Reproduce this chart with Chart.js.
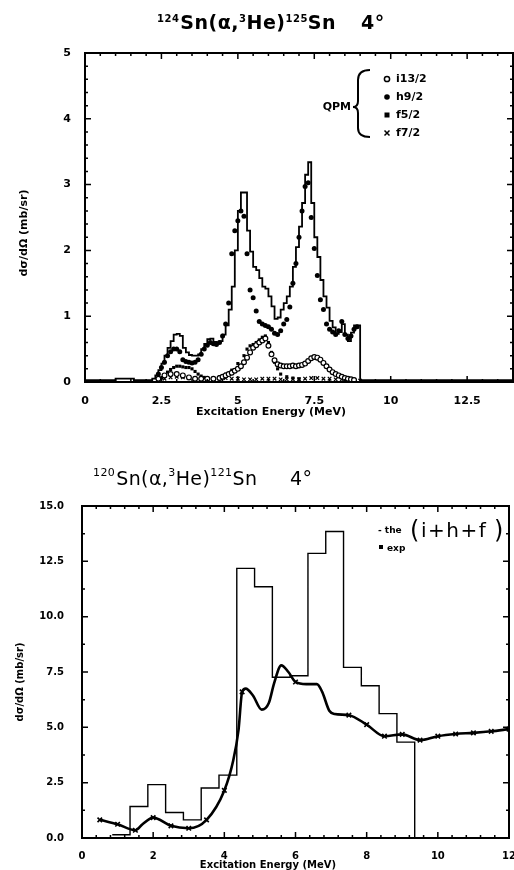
<!DOCTYPE html>
<html>
<head>
<meta charset="utf-8">
<script src="https://cdn.jsdelivr.net/npm/chart.js@4/dist/chart.umd.min.js"></script>
<style>
  html, body { margin: 0; padding: 0; background: #fff; }
  #wrap { position: relative; width: 514px; height: 870px; overflow: hidden; }
  .box { position: absolute; left: 0; width: 514px; }
</style>
</head>
<body>
<div id="wrap">
  <div class="box" style="top:0;height:440px"><canvas id="topChart"></canvas></div>
  <div class="box" style="top:440px;height:430px"><canvas id="botChart"></canvas></div>
</div>
<script>
// ---- top panel: 124Sn(a,3He)125Sn ----
const topXTicks = [0, 2.5, 5, 7.5, 10, 12.5];
const topXLabels = ['0', '2.5', '5', '7.5', '10', '12.5'];
const topYTicks = [0, 1, 2, 3, 4, 5];
const topYLabels = ['0', '1', '2', '3', '4', '5'];

// total histogram: flat baseline, then 0.1 MeV bins from 2.2 to 9.0, then baseline again
const topBaseE = [0, 1.0, 1.6];
const topBaseV = [0.03, 0.05, 0.03];
const topBinLo = 2.2;
const topBinW = 0.1;
const topTotal = [
  0.05, 0.10, 0.18, 0.28, 0.40, 0.52, 0.62, 0.72, 0.73, 0.70,
  0.52, 0.45, 0.41, 0.40, 0.40, 0.42, 0.50, 0.58, 0.65, 0.66,
  0.61, 0.60, 0.62, 0.72, 0.86, 1.10, 1.45, 2.00, 2.60, 2.88,
  2.88, 2.30, 1.98, 1.75, 1.70, 1.58, 1.45, 1.42, 1.30, 1.15,
  0.96, 0.98, 1.10, 1.20, 1.30, 1.45, 1.75, 2.05, 2.36, 2.72,
  3.15, 3.34, 2.72, 2.20, 1.90, 1.55, 1.30, 1.13, 0.93, 0.83,
  0.73, 0.76, 0.88, 0.72, 0.62, 0.75, 0.86, 0.86
];
const topTailE = [9.0, 14];
const topTailV = [0.03, 0.03];

const h92E = [2.4, 2.5, 2.6, 2.7, 2.8, 2.9, 3.0, 3.1, 3.2, 3.3, 3.4, 3.5, 3.6, 3.7, 3.8, 3.9, 4.0, 4.1, 4.2, 4.3, 4.4, 4.5, 4.6, 4.7, 4.8, 4.9, 5.0, 5.1, 5.2, 5.3, 5.4, 5.5, 5.6, 5.7, 5.8, 5.9, 6.0, 6.1, 6.2, 6.3, 6.4, 6.5, 6.6, 6.7, 6.8, 6.9, 7.0, 7.1, 7.2, 7.3, 7.4, 7.5, 7.6, 7.7, 7.8, 7.9, 8.0, 8.1, 8.2, 8.3, 8.4, 8.5, 8.6, 8.7, 8.8, 8.9];
const h92V = [0.12, 0.22, 0.30, 0.40, 0.46, 0.50, 0.50, 0.46, 0.34, 0.31, 0.30, 0.29, 0.30, 0.34, 0.42, 0.50, 0.56, 0.60, 0.58, 0.57, 0.60, 0.70, 0.88, 1.20, 1.95, 2.30, 2.45, 2.60, 2.52, 1.95, 1.40, 1.28, 1.08, 0.92, 0.88, 0.86, 0.84, 0.80, 0.74, 0.72, 0.78, 0.88, 0.95, 1.14, 1.50, 1.80, 2.20, 2.60, 2.97, 3.03, 2.50, 2.03, 1.62, 1.25, 1.10, 0.88, 0.80, 0.76, 0.72, 0.78, 0.92, 0.72, 0.66, 0.70, 0.80, 0.84];

const i132E = [2.4, 2.6, 2.8, 3.0, 3.2, 3.4, 3.6, 3.8, 4.0, 4.2, 4.4, 4.5, 4.6, 4.7, 4.8, 4.9, 5.0, 5.1, 5.2, 5.3, 5.4, 5.5, 5.6, 5.7, 5.8, 5.9, 6.0, 6.1, 6.2, 6.3, 6.4, 6.5, 6.6, 6.7, 6.8, 6.9, 7.0, 7.1, 7.2, 7.3, 7.4, 7.5, 7.6, 7.7, 7.8, 7.9, 8.0, 8.1, 8.2, 8.3, 8.4, 8.5, 8.6, 8.7, 8.8];
const i132V = [0.05, 0.10, 0.12, 0.12, 0.10, 0.07, 0.05, 0.05, 0.05, 0.05, 0.06, 0.08, 0.10, 0.12, 0.14, 0.17, 0.20, 0.24, 0.30, 0.37, 0.45, 0.52, 0.56, 0.60, 0.63, 0.66, 0.55, 0.42, 0.33, 0.27, 0.25, 0.24, 0.24, 0.24, 0.25, 0.24, 0.25, 0.26, 0.28, 0.32, 0.36, 0.38, 0.37, 0.34, 0.29, 0.24, 0.19, 0.15, 0.12, 0.10, 0.08, 0.06, 0.05, 0.04, 0.03];

const f52E = [2.5, 2.6, 2.7, 2.8, 2.9, 3.0, 3.1, 3.2, 3.3, 3.4, 3.5, 3.6, 3.7, 3.8, 3.9, 4.0, 4.2, 4.4, 4.6, 4.8, 5.0, 5.2, 5.3, 5.4, 5.5, 5.6, 5.7, 5.8, 5.9, 6.0, 6.1, 6.2, 6.3, 6.4, 6.6, 6.8, 7.0];
const f52V = [0.06, 0.10, 0.15, 0.19, 0.22, 0.24, 0.24, 0.23, 0.22, 0.22, 0.20, 0.16, 0.12, 0.09, 0.07, 0.06, 0.06, 0.08, 0.12, 0.18, 0.28, 0.40, 0.50, 0.55, 0.57, 0.60, 0.64, 0.68, 0.70, 0.60, 0.45, 0.30, 0.20, 0.12, 0.08, 0.06, 0.05];

const f72E = [2.4, 2.6, 2.8, 3.0, 3.2, 3.4, 3.6, 3.8, 4.0, 4.2, 4.4, 4.6, 4.8, 5.0, 5.2, 5.4, 5.6, 5.8, 6.0, 6.2, 6.4, 6.6, 6.8, 7.0, 7.2, 7.4, 7.6, 7.8, 8.0, 8.2, 8.4, 8.6, 8.8, 9.0];
const f72V = [0.03, 0.05, 0.07, 0.08, 0.07, 0.06, 0.05, 0.05, 0.04, 0.04, 0.05, 0.06, 0.05, 0.05, 0.04, 0.04, 0.04, 0.05, 0.05, 0.05, 0.04, 0.04, 0.04, 0.04, 0.05, 0.06, 0.06, 0.05, 0.05, 0.04, 0.04, 0.03, 0.03, 0.02];

// ---- bottom panel: 120Sn(a,3He)121Sn ----
const botXTicks = [0, 2, 4, 6, 8, 10, 12];
const botXLabels = ['0', '2', '4', '6', '8', '10', '12'];
const botYTicks = [0, 2.5, 5, 7.5, 10, 12.5, 15];
const botYLabels = ['0.0', '2.5', '5.0', '7.5', '10.0', '12.5', '15.0'];

// experiment, 0.5 MeV bins (left edges), last edge closes the histogram
const expEdges = [0.85, 1.35, 1.85, 2.35, 2.85, 3.35, 3.85, 4.35, 4.85, 5.35, 5.85, 6.35, 6.85, 7.35, 7.85, 8.35, 8.85, 9.35, 12];
const expVals = [0.15, 1.42, 2.41, 1.15, 0.82, 2.26, 2.84, 12.18, 11.35, 7.26, 7.33, 12.86, 13.85, 7.71, 6.88, 5.62, 4.33, 0, 0];

// theory (i+h+f)
const theoE = [0.5, 1.0, 1.5, 1.7, 2.0, 2.5, 3.0, 3.5, 4.0, 4.25, 4.4, 4.5, 4.6, 4.8, 5.05, 5.25, 5.4, 5.6, 5.8, 6.0, 6.3, 6.6, 6.75, 6.95, 7.1, 7.5, 8.0, 8.5, 9.0, 9.5, 10.0, 10.5, 11.0, 11.5, 12.0];
const theoV = [0.82, 0.62, 0.35, 0.62, 0.92, 0.55, 0.44, 0.82, 2.15, 3.5, 4.9, 6.6, 6.75, 6.45, 5.8, 6.1, 7.0, 7.8, 7.5, 7.05, 6.95, 6.95, 6.6, 5.75, 5.6, 5.55, 5.12, 4.6, 4.68, 4.42, 4.6, 4.7, 4.75, 4.82, 4.92];

const FONT = "'DejaVu Sans', sans-serif";

function pts(xs, ys) {
    return xs.map((x, i) => ({ x: x, y: ys[i] }));
}

function labelOf(ticks, labels) {
    return v => {
        const i = ticks.findIndex(t => Math.abs(t - v) < 1e-6);
        return i >= 0 ? labels[i] : '';
    };
}

function minorList(lo, hi, step) {
    const out = [];
    for (let v = lo; v <= hi + 1e-9; v += step) out.push(+v.toFixed(4));
    return out;
}

function drawFrame(chart, xMaj, xMin, yMaj, yMin) {
    const { ctx, chartArea: a, scales } = chart;
    const sx = scales.x, sy = scales.y;
    ctx.save();
    ctx.strokeStyle = '#000';
    ctx.lineWidth = 2;
    ctx.strokeRect(a.left, a.top, a.right - a.left, a.bottom - a.top);
    ctx.lineWidth = 1.5;
    ctx.beginPath();
    const xs = (list, len) => list.forEach(v => {
        const p = sx.getPixelForValue(v);
        if (p <= a.left + 1 || p >= a.right - 1) return;
        ctx.moveTo(p, a.top); ctx.lineTo(p, a.top + len);
        ctx.moveTo(p, a.bottom); ctx.lineTo(p, a.bottom - len);
    });
    const ys = (list, len) => list.forEach(v => {
        const p = sy.getPixelForValue(v);
        if (p <= a.top + 1 || p >= a.bottom - 1) return;
        ctx.moveTo(a.left, p); ctx.lineTo(a.left + len, p);
        ctx.moveTo(a.right, p); ctx.lineTo(a.right - len, p);
    });
    xs(xMaj, 6); xs(xMin, 3);
    ys(yMaj, 6); ys(yMin, 3);
    ctx.stroke();
    ctx.restore();
}

// title drawn piece by piece, superscripts raised and smaller
function drawTitle(ctx, parts, x0, base, supBase, size, supSize, weight, spacing) {
    ctx.save();
    ctx.fillStyle = '#000';
    ctx.textBaseline = 'alphabetic';
    ctx.textAlign = 'left';
    ctx.letterSpacing = spacing + 'px';
    let x = x0;
    parts.forEach(p => {
        if (p.at !== undefined) x = p.at;
        ctx.font = `${weight} ${p.sup ? supSize : size}px ${FONT}`;
        ctx.fillText(p.t, x, p.sup ? supBase : base);
        x += ctx.measureText(p.t).width + (p.gap || 0);
    });
    ctx.restore();
}

function axisTitles(ctx, xt, yt, font) {
    ctx.save();
    ctx.fillStyle = '#000';
    ctx.font = font;
    ctx.textAlign = 'center';
    ctx.textBaseline = 'middle';
    ctx.fillText(xt.text, xt.x, xt.y);
    ctx.translate(yt.x, yt.y);
    ctx.rotate(-Math.PI / 2);
    ctx.fillText(yt.text, 0, 0);
    ctx.restore();
}

const topDecor = {
    id: 'topDecor',
    afterDatasetsDraw(chart) {
        drawFrame(chart, topXTicks, minorList(0, 14, 0.5), topYTicks, minorList(0, 5, 0.2));
    },
    afterDraw(chart) {
        const ctx = chart.ctx;
        drawTitle(ctx, [
            { t: '124', sup: true, gap: 1 },
            { t: 'Sn(α,' },
            { t: '3', sup: true },
            { t: 'He)' },
            { t: '125', sup: true },
            { t: 'Sn' },
            { t: '4°', at: 361 }
        ], 157, 29, 22, 19, 10, 'bold', 0.5);
        axisTitles(ctx,
            { text: 'Excitation Energy (MeV)', x: 271, y: 412 },
            { text: 'dσ/dΩ (mb/sr)', x: 24, y: 233 },
            `bold 11px ${FONT}`);

        // QPM legend with brace
        ctx.save();
        ctx.strokeStyle = '#000';
        ctx.fillStyle = '#000';
        ctx.lineWidth = 2;
        ctx.beginPath();
        ctx.moveTo(370, 70);
        ctx.quadraticCurveTo(358, 70, 358, 80);
        ctx.lineTo(358, 101);
        ctx.quadraticCurveTo(358, 107, 353, 107);
        ctx.quadraticCurveTo(358, 107, 358, 113);
        ctx.lineTo(358, 128);
        ctx.quadraticCurveTo(358, 137, 370, 137);
        ctx.stroke();
        ctx.font = `bold 11px ${FONT}`;
        ctx.textBaseline = 'middle';
        ctx.textAlign = 'right';
        ctx.fillText('QPM', 351, 107);
        ctx.textAlign = 'left';
        const rows = [['i13/2', 79], ['h9/2', 97], ['f5/2', 115], ['f7/2', 133]];
        rows.forEach(r => ctx.fillText(r[0], 396, r[1]));
        ctx.lineWidth = 1.5;
        ctx.beginPath(); ctx.arc(387, 79, 2.6, 0, Math.PI * 2); ctx.stroke();
        ctx.beginPath(); ctx.arc(387, 97, 2.8, 0, Math.PI * 2); ctx.fill();
        ctx.fillRect(384.5, 112.5, 5, 5);
        ctx.beginPath();
        ctx.moveTo(384.5, 130.5); ctx.lineTo(389.5, 135.5);
        ctx.moveTo(389.5, 130.5); ctx.lineTo(384.5, 135.5);
        ctx.stroke();
        ctx.restore();
    }
};

const botDecor = {
    id: 'botDecor',
    afterDatasetsDraw(chart) {
        drawFrame(chart, botXTicks, minorList(0, 12, 0.4), botYTicks, minorList(0, 15, 1.25));
    },
    afterDraw(chart) {
        const ctx = chart.ctx;
        drawTitle(ctx, [
            { t: '120', sup: true, gap: 1 },
            { t: 'Sn(α,' },
            { t: '3', sup: true },
            { t: 'He)' },
            { t: '121', sup: true },
            { t: 'Sn' },
            { t: '4°', at: 290 }
        ], 93, 45, 36, 19, 11, 'normal', 0.4);
        axisTitles(ctx,
            { text: 'Excitation Energy (MeV)', x: 268, y: 425 },
            { text: 'dσ/dΩ (mb/sr)', x: 20, y: 242 },
            `bold 10px ${FONT}`);

        ctx.save();
        ctx.fillStyle = '#000';
        ctx.textAlign = 'left';
        ctx.textBaseline = 'alphabetic';
        ctx.font = `bold 9px ${FONT}`;
        ctx.fillText('- the', 378, 93);
        ctx.fillText('exp', 387, 111);
        ctx.fillRect(379, 105, 4, 4);
        ctx.font = `normal 24px ${FONT}`;
        ctx.fillText('(', 410, 98);
        ctx.fillText(')', 494, 98);
        ctx.font = `normal 20px ${FONT}`;
        ctx.letterSpacing = '1.5px';
        ctx.fillText('i+h+f', 421, 97);
        ctx.restore();
    }
};

function baseScales(xMin, xMax, xTicks, xLabels, yMin, yMax, yTicks, yLabels, yW, xH, fSize, yPad, xPad) {
    const tickFont = { family: FONT, size: fSize, weight: 'bold' };
    return {
        x: {
            type: 'linear', min: xMin, max: xMax,
            grid: { display: false }, border: { display: false },
            afterBuildTicks: s => { s.ticks = xTicks.map(v => ({ value: v })); },
            afterFit: s => { s.height = xH; s.paddingLeft = 0; s.paddingRight = 0; },
            ticks: { font: tickFont, color: '#000', padding: xPad, maxRotation: 0, autoSkip: false, callback: labelOf(xTicks, xLabels) }
        },
        y: {
            type: 'linear', min: yMin, max: yMax,
            grid: { display: false }, border: { display: false },
            afterBuildTicks: s => { s.ticks = yTicks.map(v => ({ value: v })); },
            afterFit: s => { s.width = yW; s.paddingTop = 0; s.paddingBottom = 0; },
            ticks: { font: tickFont, color: '#000', padding: yPad, autoSkip: false, callback: labelOf(yTicks, yLabels) }
        }
    };
}

function topHistPoints() {
    const out = pts(topBaseE, topBaseV);
    topTotal.forEach((v, i) => out.push({ x: +(topBinLo + i * topBinW).toFixed(2), y: v }));
    return out.concat(pts(topTailE, topTailV));
}

new Chart(document.getElementById('topChart'), {
    type: 'scatter',
    data: {
        datasets: [
            {
                type: 'line', label: 'total', data: topHistPoints(), stepped: 'before',
                borderColor: '#000', borderWidth: 1.8, pointRadius: 0, fill: false
            },
            {
                label: 'i13/2', data: pts(i132E, i132V), pointStyle: 'circle', pointRadius: 2.4,
                pointBorderWidth: 1.2, borderColor: '#000', backgroundColor: '#fff'
            },
            {
                label: 'h9/2', data: pts(h92E, h92V), pointStyle: 'circle', pointRadius: 2.5,
                pointBorderWidth: 0, borderColor: '#000', backgroundColor: '#000'
            },
            {
                label: 'f5/2', data: pts(f52E, f52V), pointStyle: 'rect', pointRadius: 2.2,
                pointBorderWidth: 0, borderColor: '#000', backgroundColor: '#000'
            },
            {
                label: 'f7/2', data: pts(f72E, f72V), pointStyle: 'crossRot', pointRadius: 2.5,
                pointBorderWidth: 1.2, borderColor: '#000', backgroundColor: '#000'
            }
        ]
    },
    options: {
        responsive: true,
        maintainAspectRatio: false,
        animation: false,
        layout: { autoPadding: false, padding: { left: 0, right: 1, top: 53, bottom: 0 } },
        plugins: { legend: { display: false }, tooltip: { enabled: false } },
        scales: baseScales(0, 14, topXTicks, topXLabels, 0, 5, topYTicks, topYLabels, 85, 58, 11, 6, 5)
    },
    plugins: [topDecor]
});

new Chart(document.getElementById('botChart'), {
    type: 'scatter',
    data: {
        datasets: [
            {
                type: 'line', label: 'exp', data: pts(expEdges, expVals), stepped: 'before',
                borderColor: '#000', borderWidth: 1.4, pointRadius: 0, fill: false
            },
            {
                type: 'line', label: 'the', data: pts(theoE, theoV),
                cubicInterpolationMode: 'monotone', borderColor: '#000', borderWidth: 2.6, fill: false,
                pointStyle: 'crossRot', pointBorderWidth: 1.6, pointBorderColor: '#000',
                pointRadius: c => ((c.raw && Math.abs(c.raw.x * 2 - Math.round(c.raw.x * 2)) < 1e-6) ? 3.2 : 0)
            }
        ]
    },
    options: {
        responsive: true,
        maintainAspectRatio: false,
        animation: false,
        layout: { autoPadding: false, padding: { left: 0, right: 5, top: 66, bottom: 0 } },
        plugins: { legend: { display: false }, tooltip: { enabled: false } },
        scales: baseScales(0, 12, botXTicks, botXLabels, 0, 15, botYTicks, botYLabels, 82, 32, 10, 10, 4)
    },
    plugins: [botDecor]
});
</script>
</body>
</html>
